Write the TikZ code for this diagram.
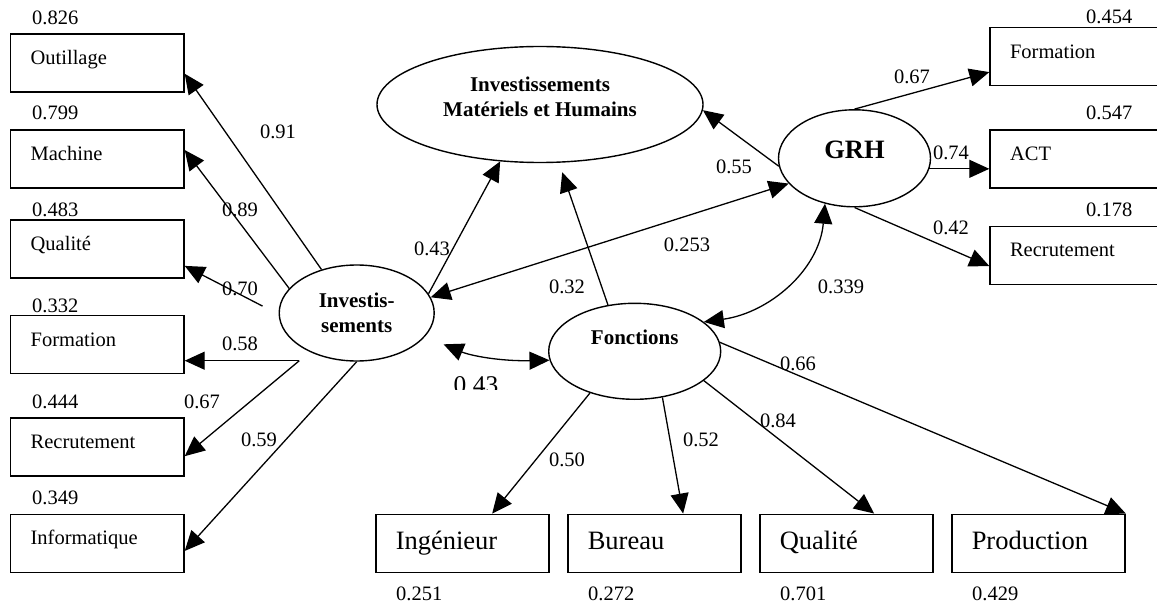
\documentclass[tikz,border=0pt]{standalone}
\usepackage{fontspec}
\setmainfont{Liberation Serif}
\usetikzlibrary{arrows.meta,shapes.geometric}

\begin{document}
\begin{tikzpicture}[x=1pt, y=1pt,
    obs/.style={rectangle, draw, line width=1.5pt, inner xsep=20pt, inner ysep=0pt,
                text width=133.3pt, minimum height=58pt, align=left,
                font=\fontsize{20.5}{24}\selectfont, text height=15pt, text depth=12pt},
    obsbig/.style={obs, font=\fontsize{26.5}{30}\selectfont, text height=19pt, text depth=7pt},
    latent/.style={ellipse, draw, line width=1.4pt, inner sep=0pt, align=center,
                   font=\fontsize{21}{25}\selectfont\bfseries},
    load/.style={-{Triangle[length=20pt,width=18pt]}, line width=1.3pt},
    cov/.style={{Triangle[length=20pt,width=18pt]}-{Triangle[length=20pt,width=18pt]}, line width=1.3pt},
    num/.style={font=\fontsize{20.5}{24}\selectfont, inner sep=0pt, anchor=base},
    val/.style={num, anchor=base west}
  ]
  \useasboundingbox (0,0) rectangle (1157,-604);
  \clip (0,0) rectangle (1157,-604);

  \node[latent, minimum width=326pt, minimum height=116pt, text depth=15pt] (imh) at (540,-104.5) {Investissements\\Matériels et Humains};
  \node[latent, minimum width=155pt, minimum height=96pt] (inv) at (356.7,-313) {Investis-\\sements};
  \node[latent, minimum width=152pt, minimum height=97pt, font=\fontsize{26.5}{30}\selectfont\bfseries, text depth=18pt] (grh) at (854.5,-158.3) {GRH};
  \node[latent, minimum width=172pt, minimum height=96pt, text depth=28pt] (fonc) at (634.7,-351.3) {Fonctions};

  \node[obs] (outil) at (97.3,-63)    {Outillage};
  \node[obs] (mach)  at (97.3,-159.2) {Machine};
  \node[obs] (qual)  at (97.3,-248.9) {Qualité};
  \node[obs] (form)  at (97.3,-344.7) {Formation};
  \node[obs] (recr)  at (97.3,-447)   {Recrutement};
  \node[obs] (info)  at (97.3,-543.3) {Informatique};

  \node[obs] (rform) at (1076.7,-56.7)  {Formation};
  \node[obs] (ract)  at (1076.7,-159)   {ACT};
  \node[obs] (rrecr) at (1076.7,-255.3) {Recrutement};

  \node[obsbig] (ing)   at (462.4,-543.3)  {Ingénieur};
  \node[obsbig] (bur)   at (654.4,-543.3)  {Bureau};
  \node[obsbig] (bqual) at (846.4,-543.3)  {Qualité};
  \node[obsbig] (prod)  at (1038.4,-543.3) {Production};

  \node[val] (v826) at (32,-24.3)  {0.826};
  \node[val] (v799) at (32,-120)   {0.799};
  \node[val] (v483) at (32,-216.7) {0.483};
  \node[val] (v332) at (32,-312.7) {0.332};
  \node[val] (v444) at (32,-408.3) {0.444};
  \node[val] (v349) at (32,-504)   {0.349};
  \node[val] (v454) at (1086,-24)    {0.454};
  \node[val] (v547) at (1086,-120)   {0.547};
  \node[val] (v178) at (1086,-216.7) {0.178};
  \node[val] (v251) at (396,-600) {0.251};
  \node[val] (v272) at (588,-600) {0.272};
  \node[val] (v701) at (780,-600) {0.701};
  \node[val] (v429) at (972,-600) {0.429};

  \coordinate (split) at (299.3,-360.7);
  \draw[load] (inv.129) -- (outil.-7);
  \draw[load] (inv.160) -- (mach.6);
  \draw[load, shorten <=18pt] (inv.181) -- (qual.-11);
  \draw[load] (split) -- (split -| form.east);
  \draw[load] (split) -- (recr.-6);
  \draw[load] (inv.south) -- (info.-5);

  \draw[load] (inv.15) -- (imh.-125);
  \draw[load, shorten >=10pt] (fonc.120) -- (imh.-72);
  \draw[load] (grh.186) -- (imh.-2);
  \draw[cov] (inv.12) -- (grh.201);

  \draw[load] (grh.north) -- (rform.190);
  \draw[load] (grh.-8) -- (grh.-8 -| ract.west);
  \draw[load] (grh.south) -- (rrecr.187);

  \draw[cov] (grh.-123) to[out=-95, in=8] (fonc.23);
  \draw[cov, shorten <=20pt] (inv.-19) to[bend right=12] (fonc.186);

  \draw[load] (fonc.-137) -- (ing.45);
  \draw[load] (fonc.-59) -- (bur.46);
  \draw[load] (fonc.-23) -- (bqual.47);
  \draw[load] (fonc.6) -- (prod.north east);

  \node[num] (l91)  at (278,-139)   {0.91};
  \node[num] (l89)  at (240,-216.7) {0.89};
  \node[num] (l70)  at (240,-295)   {0.70};
  \node[num] (l58)  at (240,-350.7) {0.58};
  \node[num] (l67)  at (202,-408.3) {0.67};
  \node[num] (l59)  at (259,-446.7) {0.59};
  \node[num] (l43)  at (432,-255)   {0.43};
  \node[num] (l32)  at (567,-293)   {0.32};
  \node[num] (l55)  at (734,-174)   {0.55};
  \node[num] (l253) at (687,-251.7) {0.253};
  \node[num] (l67r) at (912,-83.3)  {0.67};
  \node[num] (l74)  at (951,-159.3) {0.74};
  \node[num] (l42)  at (951,-235)   {0.42};
  \node[num] (l339) at (841,-293.3) {0.339};
  \node[num] (l50)  at (567,-466.7) {0.50};
  \node[num] (l52)  at (701,-446.7) {0.52};
  \node[num] (l84)  at (778,-427.3) {0.84};
  \node[num] (l66)  at (798,-370)   {0.66};

  \begin{scope}
    \clip (440,-360) rectangle (520,-389.3);
    \node[num, font=\fontsize{25.5}{30}\selectfont] (l43b) at (476,-393.9) {0.43};
  \end{scope}
\end{tikzpicture}
\end{document}
